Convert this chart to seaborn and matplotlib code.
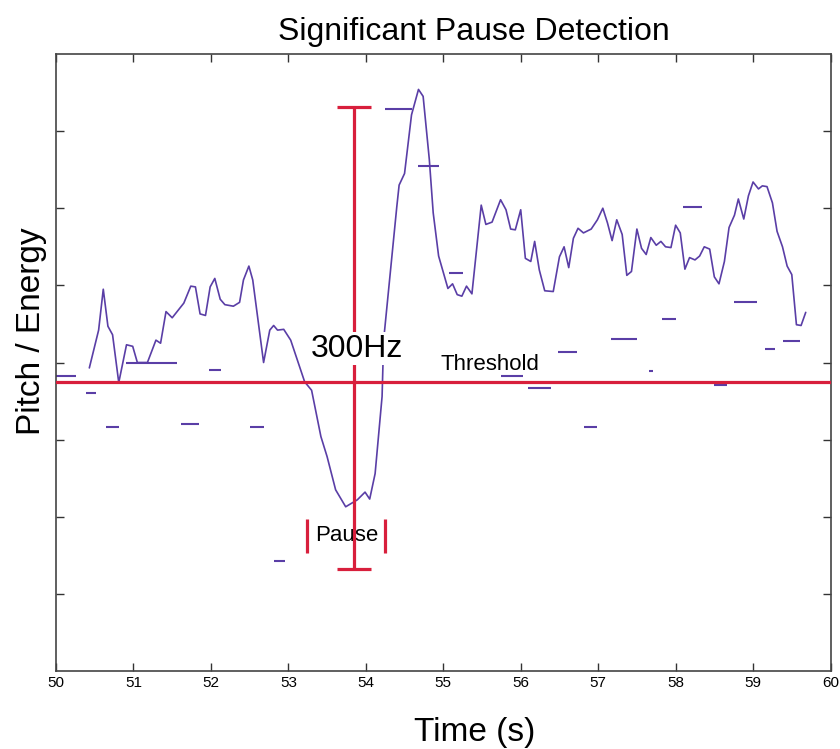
import matplotlib
matplotlib.use("Agg")
import matplotlib.pyplot as plt
import numpy as np
import pandas as pd
import seaborn as sns

# pitch contour (time in s, value in axis units)
pitch_time = [50.43, 50.55, 50.61, 50.67, 50.73, 50.81, 50.91, 50.99, 51.05, 51.18,
              51.29, 51.35, 51.42, 51.50, 51.65, 51.74, 51.80, 51.86, 51.93, 51.99,
              52.05, 52.12, 52.18, 52.29, 52.37, 52.42, 52.49, 52.54, 52.68, 52.76,
              52.81, 52.86, 52.94, 53.03, 53.21, 53.30, 53.42, 53.50, 53.61, 53.74,
              53.89, 53.99, 54.05, 54.12, 54.21, 54.23, 54.40, 54.43, 54.50, 54.59,
              54.68, 54.74, 54.82, 54.87, 54.94, 55.06, 55.12, 55.18, 55.24, 55.30,
              55.37, 55.49, 55.55, 55.63, 55.74, 55.81, 55.87, 55.93, 56.00, 56.06,
              56.13, 56.18, 56.24, 56.31, 56.42, 56.50, 56.56, 56.62, 56.68, 56.74,
              56.81, 56.91, 56.99, 57.06, 57.12, 57.18, 57.24, 57.31, 57.37, 57.43,
              57.50, 57.56, 57.62, 57.68, 57.75, 57.81, 57.87, 57.94, 58.00, 58.06,
              58.12, 58.18, 58.25, 58.31, 58.37, 58.44, 58.50, 58.56, 58.63, 58.69,
              58.76, 58.81, 58.88, 58.94, 59.00, 59.07, 59.12, 59.18, 59.25, 59.31,
              59.38, 59.44, 59.50, 59.56, 59.62, 59.68]
pitch_value = [3.93, 4.42, 4.95, 4.47, 4.36, 3.74, 4.23, 4.21, 4.00, 4.00,
               4.29, 4.25, 4.66, 4.58, 4.77, 4.99, 4.98, 4.63, 4.61, 4.98,
               5.09, 4.82, 4.75, 4.73, 4.78, 5.07, 5.25, 5.07, 4.00, 4.42,
               4.48, 4.42, 4.43, 4.29, 3.75, 3.64, 3.04, 2.78, 2.35, 2.13,
               2.22, 2.32, 2.23, 2.56, 3.56, 4.29, 6.02, 6.30, 6.45, 7.21,
               7.54, 7.45, 6.63, 5.94, 5.38, 4.96, 5.02, 4.88, 4.86, 4.99,
               4.89, 6.04, 5.79, 5.82, 6.11, 5.98, 5.73, 5.72, 5.98, 5.35,
               5.31, 5.57, 5.20, 4.93, 4.92, 5.37, 5.50, 5.23, 5.61, 5.74,
               5.68, 5.73, 5.85, 6.00, 5.81, 5.58, 5.85, 5.66, 5.13, 5.18,
               5.73, 5.48, 5.40, 5.62, 5.52, 5.57, 5.50, 5.49, 5.78, 5.68,
               5.21, 5.36, 5.33, 5.38, 5.50, 5.47, 5.11, 5.02, 5.31, 5.75,
               5.91, 6.12, 5.86, 6.16, 6.34, 6.25, 6.29, 6.28, 6.07, 5.70,
               5.50, 5.25, 5.14, 4.49, 4.48, 4.65]

# short energy segments
seg_start = [50.00, 50.39, 50.64, 50.90, 51.61, 51.98, 52.51, 52.81, 54.25, 54.68,
             55.07, 55.74, 56.10, 56.48, 56.82, 57.16, 57.65, 57.83, 58.10, 58.49,
             58.76, 59.15, 59.39]
seg_end = [50.26, 50.51, 50.81, 51.56, 51.84, 52.13, 52.69, 52.96, 54.59, 54.95,
           55.26, 56.03, 56.39, 56.73, 56.99, 57.50, 57.71, 58.00, 58.34, 58.66,
           59.05, 59.28, 59.61]
seg_level = [3.82, 3.60, 3.16, 3.99, 3.20, 3.90, 3.17, 1.43, 7.28, 6.55,
             5.16, 3.82, 3.67, 4.13, 3.16, 4.30, 3.89, 4.56, 6.01, 3.71,
             4.78, 4.18, 4.28]

threshold = 3.75
bar_x = 53.85
bar_low, bar_high = 1.32, 7.31
pause_edges = [53.24, 54.25]
pause_low, pause_high = 1.53, 1.97
x_ticks = [50, 51, 52, 53, 54, 55, 56, 57, 58, 59, 60]
y_ticks = [1, 2, 3, 4, 5, 6, 7]

purple = "#5a3ea6"
red = "#d81f3c"

sns.set_style("white")
plt.rcParams['font.family'] = ['Liberation Sans', 'DejaVu Sans']
plt.rcParams['text.color'] = 'black'
plt.rcParams['axes.labelcolor'] = 'black'

fig = plt.figure(figsize=(8.4, 7.49), dpi=100)
ax = fig.add_axes([0.0667, 0.104, 0.922, 0.824])

df = pd.DataFrame({"time": pitch_time, "pitch": pitch_value})
sns.lineplot(data=df, x="time", y="pitch", color=purple, linewidth=1.2, ax=ax)
ax.hlines(seg_level, seg_start, seg_end, color=purple, linewidth=1.5)

ax.axhline(threshold, color=red, linewidth=2.3, zorder=3)

# 300Hz range bar
ax.errorbar([bar_x], [(bar_low + bar_high) / 2], yerr=[(bar_high - bar_low) / 2],
            fmt="none", ecolor=red, elinewidth=2.3, capsize=12.5, capthick=2.3, zorder=3)
ax.text(bar_x + 0.04, 4.18, "300Hz", fontsize=23, ha="center", va="center",
        bbox=dict(facecolor="white", edgecolor="none", pad=1), zorder=4)

# pause markers
ax.vlines(pause_edges, pause_low, pause_high, color=red, linewidth=2.3, zorder=3)
ax.text(53.76, 1.76, "Pause", fontsize=16, ha="center", va="center", zorder=2)

ax.text(55.60, 3.97, "Threshold", fontsize=16, ha="center", va="center")

ax.set_xlim(50, 60)
ax.set_ylim(0, 8)
ax.set_xticks(x_ticks)
ax.set_xticklabels([str(t) for t in x_ticks], fontsize=11)
ax.set_yticks(y_ticks)
ax.set_yticklabels([])
ax.tick_params(direction="in", length=6, width=1, top=True, right=True,
               bottom=True, left=True, colors="#333333", labelcolor="black")
for s in ax.spines.values():
    s.set_color("#444444")
    s.set_linewidth(1.2)

ax.set_xlabel("Time (s)", fontsize=24)
ax.xaxis.set_label_coords(0.54, -0.075)
ax.set_ylabel("Pitch / Energy", fontsize=24)
ax.yaxis.set_label_coords(-0.012, 0.55)
ax.set_title("Significant Pause Detection", fontsize=23, x=0.54, pad=10)

fig.savefig("out.png", dpi=100)
